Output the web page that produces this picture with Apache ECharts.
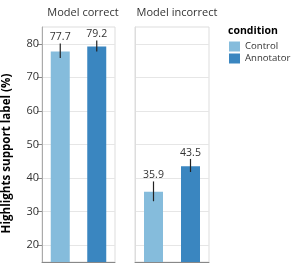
<!DOCTYPE html>
<html><head><meta charset="utf-8">
<script src="https://cdn.jsdelivr.net/npm/echarts@6/dist/echarts.min.js"></script>
<style>html,body{margin:0;padding:0;background:#fff}#c{width:292px;height:273px}</style>
</head><body><div id="c"></div>
<script>
var categories = ['Control', 'Annotator'];
var panels = ['Model correct', 'Model incorrect'];
var controlMeans = [77.7, 35.9];
var annotatorMeans = [79.2, 43.5];
var controlLow = [75.8, 33.1];
var controlHigh = [80.1, 39.0];
var annotatorLow = [77.7, 41.8];
var annotatorHigh = [81.0, 45.7];
var yTicks = [20, 30, 40, 50, 60, 70, 80];

var colors = ['#85bcdc', '#3a86c0'];
var FONT = 'Open Sans';
var chart = echarts.init(document.getElementById('c'), null, {renderer: 'canvas'});

var grids = [], xAxes = [], yAxes = [], series = [];
var lefts = [41, 135];
for (var p = 0; p < 2; p++) {
  grids.push({left: lefts[p], top: 27, width: 74, height: 235, show: true, borderColor: '#ddd', borderWidth: 1, containLabel: false});
  xAxes.push({type: 'category', gridIndex: p, data: categories,
    axisLine: {lineStyle: {color: '#888', width: 1}},
    axisTick: {alignWithLabel: true, length: 5, lineStyle: {color: '#888'}},
    axisLabel: {show: false}, splitLine: {show: false}});
  yAxes.push({type: 'value', gridIndex: p, min: 15, max: 85,
    name: p === 0 ? 'Highlights support label (%)' : '',
    nameLocation: 'middle', nameRotate: 90, nameGap: 29,
    nameTextStyle: {fontFamily: FONT, fontWeight: 'bold', fontSize: 11.6, color: '#000', padding: [0, 18, 0, 0]},
    axisLine: {show: true, lineStyle: {color: p === 0 ? '#aaa' : '#ddd'}},
    axisTick: {show: p === 0, length: 5, customValues: yTicks, lineStyle: {color: '#888'}},
    axisLabel: {show: p === 0, customValues: yTicks, fontFamily: FONT, fontSize: 11, color: '#333', margin: 3},
    splitLine: {show: true, lineStyle: {color: '#e6e6e6'}}});
  var cd = categories.map(function (c, i) { return i === 0 ? controlMeans[p] : '-'; });
  var ad = categories.map(function (c, i) { return i === 1 ? annotatorMeans[p] : '-'; });
  series.push({type: 'bar', name: 'Control', xAxisIndex: p, yAxisIndex: p, data: cd, barWidth: 19, barGap: '-100%',
    itemStyle: {color: colors[0]}});
  series.push({type: 'bar', name: 'Annotator', xAxisIndex: p, yAxisIndex: p, data: ad, barWidth: 19, barGap: '-100%',
    itemStyle: {color: colors[1]}});
  var errData = [
    [0, controlLow[p], controlHigh[p], controlMeans[p]],
    [1, annotatorLow[p], annotatorHigh[p], annotatorMeans[p]]
  ];
  series.push({type: 'custom', xAxisIndex: p, yAxisIndex: p, data: errData, z: 10,
    renderItem: function (params, api) {
      var x = api.value(0);
      var lo = api.coord([x, api.value(1)]);
      var hi = api.coord([x, api.value(2)]);
      return {type: 'group', children: [
        {type: 'line', shape: {x1: lo[0], y1: lo[1], x2: hi[0], y2: hi[1]}, style: {stroke: '#222', lineWidth: 1.2}},
        {type: 'text', x: hi[0], y: hi[1] - 6, style: {text: api.value(3).toFixed(1), fontFamily: FONT, fontSize: 10.5, fill: '#333', align: 'center', verticalAlign: 'middle'}}
      ]};
    }});
}

chart.setOption({
  animation: false,
  textStyle: {fontFamily: FONT},
  title: [
    {text: panels[0], left: 78, top: 2, textAlign: 'center', textStyle: {fontFamily: FONT, fontSize: 11, fontWeight: 'normal', color: '#333'}},
    {text: panels[1], left: 172, top: 2, textAlign: 'center', textStyle: {fontFamily: FONT, fontSize: 11, fontWeight: 'normal', color: '#333'}}
  ],
  legend: {data: ['Control', 'Annotator'], orient: 'vertical', left: 229, top: 41, padding: 0, itemWidth: 11, itemHeight: 10, itemGap: 1,
    icon: 'rect', textStyle: {fontFamily: FONT, fontSize: 9.6, color: '#333', lineHeight: 11}},
  graphic: [{type: 'text', left: 228, top: 26, style: {text: 'condition', fontFamily: FONT, fontWeight: 'bold', fontSize: 10.5, fill: '#000'}}],
  grid: grids, xAxis: xAxes, yAxis: yAxes, series: series
});
</script></body></html>
